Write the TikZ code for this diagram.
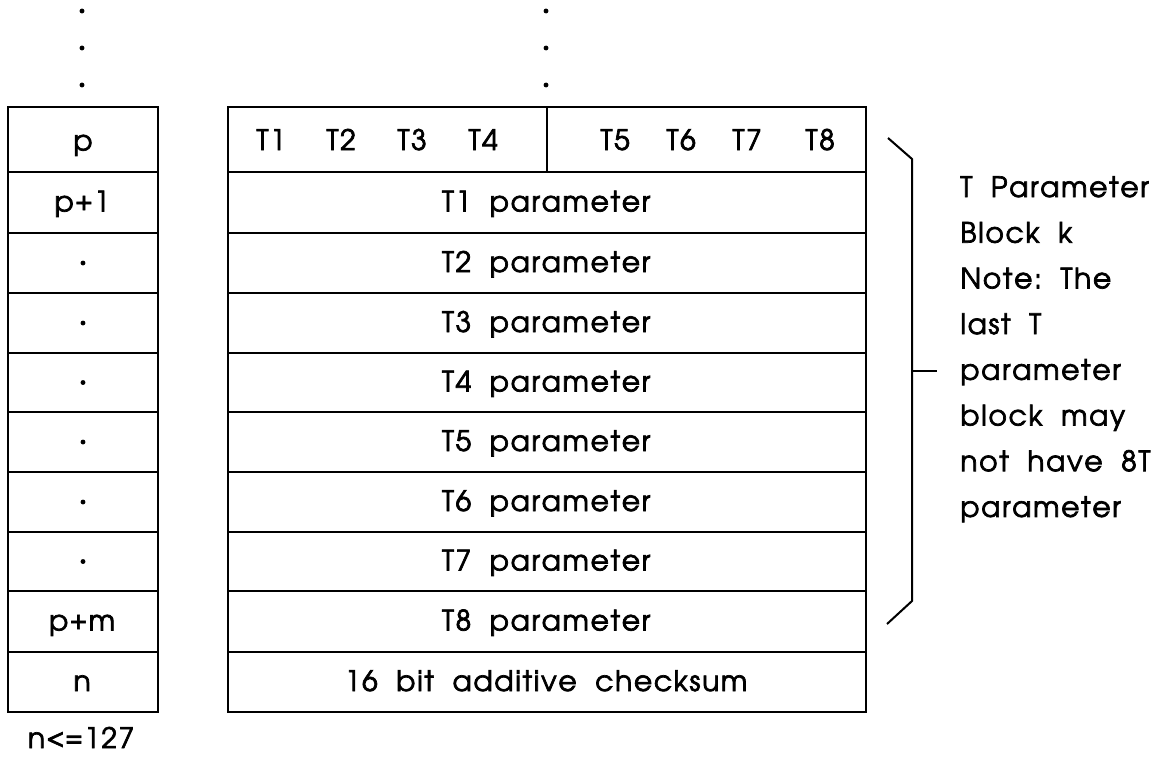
\documentclass[tikz,border=0pt]{standalone}
\usepackage[T1]{fontenc}
\usepackage{avant}
\renewcommand{\familydefault}{\sfdefault}
\usetikzlibrary{positioning}
% letter spacing by hand
\newcommand{\trk}{0.06em}
\def\endmark{}
\def\trackletters#1{\ifx#1\relax\else#1\kern\trk\expandafter\trackletters\fi}
\def\trackwords#1 #2\endmark{\trackletters#1\relax
  \if\relax\detokenize{#2}\relax\else\hskip.6em\relax\trackwords#2\endmark\fi}
\def\trackall#1{\trackwords#1 \endmark}
\newcommand{\tracked}[1]{\expandafter\trackall\expandafter{#1}}
% slightly heavier glyphs: fill and stroke
\newcommand{\heavy}{\special{pdf:literal direct 2 Tr 0.4 w}}

\tikzset{
  box/.style={draw, line width=1.15pt, inner sep=0pt, anchor=north west},
  lbl/.style={font=\fontsize{16}{19}\selectfont\heavy, inner sep=0pt, anchor=base},
  note/.style={lbl, anchor=base west},
  dot/.style={circle, fill, inner sep=0pt, minimum size=2.8pt}
}

\begin{document}
\begin{tikzpicture}[x=0.02cm, y=-0.02cm]
  \useasboundingbox (0,0) rectangle (1165,757);
  %%%%% DOTS ABOVE %%%%%
  \foreach \y [count=\i] in {11,48,85} {
    \node[dot] (ldot\i) at (82,\y) {};
    \node[dot] (rdot\i) at (546,\y) {};
  }

  %%%%% HEADER ROW %%%%%
  \node[box, minimum width=3cm, minimum height=1.3cm] (num0) at (7,106) {};
  \node[box, minimum width=6.38cm, minimum height=1.3cm] (hdl) at (227,106) {};
  \node[box, minimum width=6.38cm, minimum height=1.3cm] (hdr) at (546,106) {};
  \node[lbl] (numtxt0) at ([yshift=-0.22cm]num0.center) {p};
  \foreach \x/\t in {272/T1, 342/T2, 413/T3, 484/T4, 616/T5, 682/T6, 748/T7, 821/T8}
    \node[lbl] (hd\t) at (\x,150) {\tracked{\t}};

  %%%%% PARAMETER ROWS %%%%%
  \foreach \top/\ht/\num/\txt [count=\i] in {171/61/p+1/T1 parameter, 232/60/{}/T2 parameter,
      292/60/{}/T3 parameter, 352/59/{}/T4 parameter, 411/60/{}/T5 parameter,
      471/60/{}/T6 parameter, 531/59/{}/T7 parameter, 590/61/p+m/T8 parameter,
      651/60/n/16 bit additive checksum} {
    \node[box, minimum width=3cm, minimum height=\ht*0.02cm] (num\i) at (7,\top) {};
    \node[box, minimum width=12.76cm, minimum height=\ht*0.02cm] (par\i) at (227,\top) {};
    \node[lbl] (numtxt\i) at ([yshift=-0.18cm]num\i.center) {\tracked{\num}};
    \node[lbl] (partxt\i) at ([yshift=-0.18cm]par\i.center) {\tracked{\txt}};
  }
  \foreach \i in {2,...,7}
    \node[dot] (mdot\i) at (num\i.center) {};

  \node[lbl] (limit) at (82,748) {\tracked{n<=127}};

  %%%%% BRACE %%%%%
  \coordinate (bra) at (888,138);
  \coordinate (brb) at (912,159);
  \coordinate (brc) at (912,601);
  \coordinate (brd) at (887,624);
  \coordinate (brm) at (912,371);
  \coordinate (brt) at (937,371);
  \draw[line width=1.15pt] (bra) -- (brb) -- (brc) -- (brd);
  \draw[line width=1.15pt] (brm) -- (brt);

  \foreach \t [count=\i from 0] in {T Parameter, Block k, Note: The, last T,
      parameter, block may, not have 8T, parameter}
    \node[note] (note\i) at (960,197+45.7*\i) {\tracked{\t}};
\end{tikzpicture}
\end{document}
